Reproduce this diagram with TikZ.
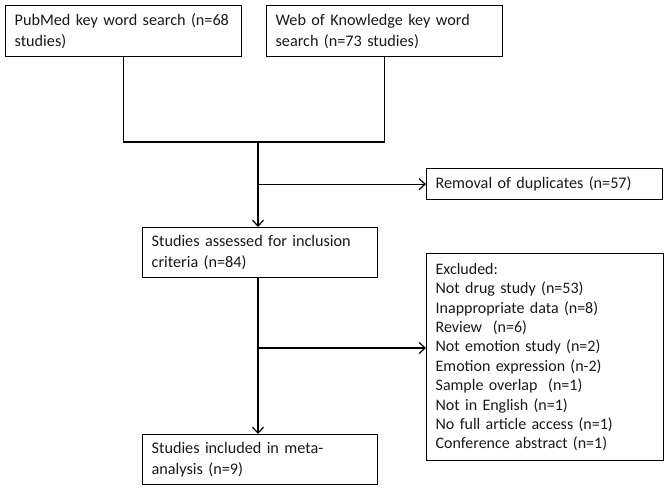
\documentclass[tikz,border=0pt]{standalone}
\usepackage{fontspec}
\setmainfont{Carlito}
\usetikzlibrary{arrows.meta,positioning}
\tikzset{
 box/.style={draw, line width=1.3pt, anchor=north west, align=left, inner xsep=9pt, inner ysep=0pt,
   font=\fontsize{16.2pt}{21pt}\selectfont, text=black!90},
 link/.style={line width=1.2pt},
 arr/.style={link, -{Straight Barb[length=6pt,width=11pt,line width=1.2pt]}}
}
\begin{document}
\begin{tikzpicture}[x=1pt,y=1pt]
\useasboundingbox (0,0) rectangle (668,-490);
% nodes
 \node[box, text width=218pt, minimum height=51pt] (pub) at (5,-5) {PubMed key word search (n=68\\studies)};
 \node[box, text width=218pt, minimum height=51pt] (wok) at (266,-5) {Web of Knowledge key word\\search (n=73 studies)};
 \node[box, text width=218pt, minimum height=31pt] (dup) at (426,-168) {Removal of duplicates (n=57)};
 \node[box, text width=217pt, minimum height=50pt] (assess) at (142,-227) {Studies assessed for inclusion\\criteria (n=84)};
 \node[box, text width=219pt, minimum height=207pt, font=\fontsize{16pt}{19.4pt}\selectfont] (excl) at (426,-253) {Excluded:\\Not drug study (n=53)\\Inappropriate data (n=8)\\Review\ \ (n=6)\\Not emotion study (n=2)\\Emotion expression (n-2)\\Sample overlap\ \ (n=1)\\Not in English (n=1)\\No full article access (n=1)\\Conference abstract (n=1)};
 \node[box, text width=217pt, minimum height=50pt] (incl) at (142,-434) {Studies included in meta-\\analysis (n=9)};
% junctions
 \coordinate (merge) at (258,-142);
 \coordinate (split) at (258,-348);
% edges
 \draw[link] (pub.south) |- (merge) -| (wok.south);
 \draw[arr] (merge) -- (merge |- assess.north);
 \draw[arr] (merge |- dup.west) -- (dup.west);
 \draw[arr] (merge |- assess.south) -- (merge |- incl.north);
 \draw[arr] (split) -- (split -| excl.west);
\end{tikzpicture}
\end{document}
